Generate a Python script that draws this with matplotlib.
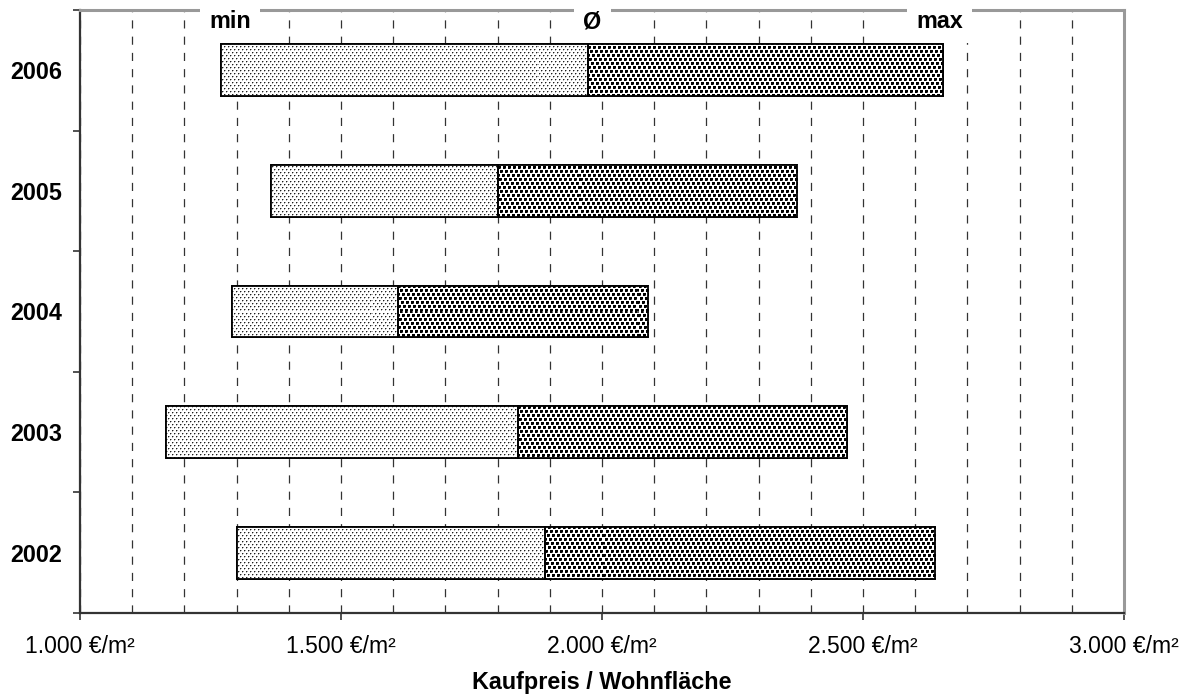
import matplotlib
matplotlib.use("Agg")
import numpy as np
import matplotlib.pyplot as plt
from matplotlib.ticker import FuncFormatter, MultipleLocator, FixedLocator

plt.rcParams['font.family'] = ['Liberation Sans', 'DejaVu Sans']

years = ["2002", "2003", "2004", "2005", "2006"]
price_min = [1300, 1165, 1291, 1366, 1270]
price_avg = [1890, 1840, 1610, 1800, 1974]
price_max = [2638, 2470, 2089, 2374, 2654]
x_ticks = [1000, 1500, 2000, 2500, 3000]
marker_labels = ["min", "Ø", "max"]

W, H = 1192, 697
AX_L, AX_B, AX_W, AX_H = 80, 84, 1044, 603

fig = plt.figure(figsize=(W / 100, H / 100), dpi=100)
ax = fig.add_axes([AX_L / W, AX_B / H, AX_W / W, AX_H / H])

XLIM = (1000, 3000)
YLIM = (-0.5, len(years) - 0.5)


def dot_texture(shape):
    """Fine grey stipple: single dots on a staggered 4x3 lattice."""
    img = np.ones(shape)
    rows, cols = shape
    for r in range(0, rows, 3):
        off = (r // 3 * 2) % 4
        img[r, off::4] = 0.12
        nb = (off + 1) % 4
        img[r, nb::4] = np.minimum(img[r, nb::4], 0.65)
        if r + 1 < rows:
            img[r + 1, off::4] = np.minimum(img[r + 1, off::4], 0.7)
    return img


def block_texture(shape):
    """Coarse dark stipple: small squares on a staggered 5x4 lattice."""
    img = np.ones(shape)
    rows, cols = shape
    for r0 in range(0, rows, 4):
        off = (r0 // 4 * 2) % 5
        for dy in range(3):
            r = r0 + dy
            if r >= rows:
                continue
            for dx in range(3):
                c0 = (off + dx) % 5
                corner = dy == 2 and dx == 2
                val = 0.35 if corner else 0.0
                img[r, c0::5] = np.minimum(img[r, c0::5], val)
    return img


light_tex = dot_texture((AX_H, AX_W))
dark_tex = block_texture((AX_H, AX_W))

ypos = list(range(len(years)))
h = 0.43
left_w = [a - m for m, a in zip(price_min, price_avg)]
right_w = [x - a for a, x in zip(price_avg, price_max)]

bars_lo = ax.barh(ypos, left_w, left=price_min, height=h, color='white',
                  edgecolor='black', linewidth=1.3, zorder=3)
bars_hi = ax.barh(ypos, right_w, left=price_avg, height=h, color='white',
                  edgecolor='black', linewidth=1.3, zorder=3)

for bars, tex in ((bars_lo, light_tex), (bars_hi, dark_tex)):
    for rect in bars:
        im = ax.imshow(tex, cmap='gray', vmin=0, vmax=1, interpolation='nearest',
                       extent=(*XLIM, *YLIM), origin='upper', aspect='auto',
                       zorder=3.5)
        im.set_clip_path(rect)
    # outline on top of the texture
    for rect in bars:
        outline = plt.Rectangle(rect.get_xy(), rect.get_width(), rect.get_height(),
                                fill=False, edgecolor='black', linewidth=1.3,
                                zorder=4)
        ax.add_patch(outline)

ax.set_xlim(*XLIM)
ax.set_ylim(*YLIM)

ax.xaxis.set_major_locator(FixedLocator(x_ticks))
ax.xaxis.set_minor_locator(MultipleLocator(100))
ax.xaxis.set_major_formatter(FuncFormatter(
    lambda v, p: f"{int(v):,} €/m²".replace(",", ".")))
ax.tick_params(axis='x', which='major', direction='out', length=5,
               width=1.2, color='#333333', pad=11, labelsize=16.5)
ax.tick_params(axis='x', which='minor', length=0)
ax.grid(axis='x', which='both', color='#333333', linewidth=0.9,
        linestyle=(0, (6.5, 6.5)), zorder=1)
ax.set_axisbelow(True)

ax.set_yticks(ypos)
ax.set_yticklabels(years, fontweight='bold')
ax.yaxis.set_minor_locator(FixedLocator([y - 0.5 for y in range(len(years) + 1)]))
ax.tick_params(axis='y', which='major', length=0, pad=13, labelsize=16.8)
ax.tick_params(axis='y', which='minor', direction='out', length=5,
               width=1.2, color='#333333')

for side in ('left', 'bottom'):
    ax.spines[side].set_color('#333333')
    ax.spines[side].set_linewidth(1.6)
for side in ('top', 'right'):
    ax.spines[side].set_color('#999999')
    ax.spines[side].set_linewidth(2.2)

ax.set_xlabel("Kaufpreis / Wohnfläche", fontweight='bold', fontsize=16.8,
              labelpad=9.5)

# column markers along the top edge, at the latest year's values;
# drawn above the frame but beneath the bars
top = len(years) - 1
offsets = [9, 4, -4]
for lab, val, off in zip(marker_labels,
                         [price_min[top], price_avg[top], price_max[top]], offsets):
    ax.annotate(lab, xy=(val, 1.0), xycoords=('data', 'axes fraction'),
                xytext=(off, -12), textcoords='offset pixels',
                ha='center', va='center', fontsize=16.8, fontweight='bold',
                zorder=2.8, annotation_clip=False,
                bbox=dict(boxstyle='square,pad=0.4', fc='white', ec='none'))

fig.savefig("out.png", dpi=100)
